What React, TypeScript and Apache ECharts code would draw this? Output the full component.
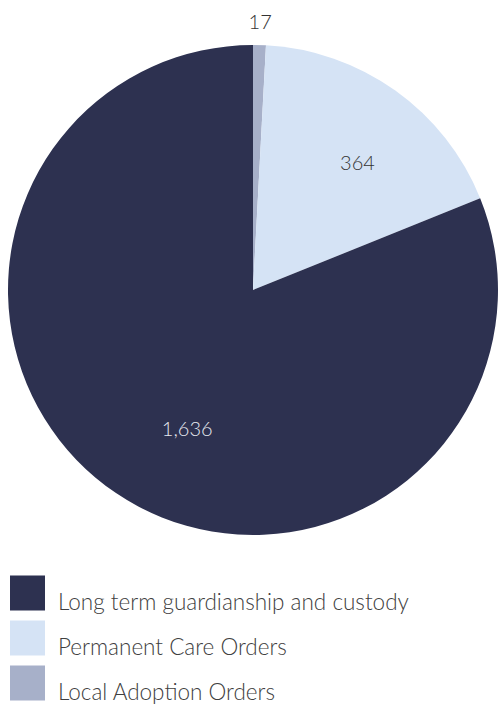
import React, { useEffect, useRef } from "react";
import * as echarts from "echarts";

const categories = ["Local Adoption Orders", "Permanent Care Orders", "Long term guardianship and custody"];
const values = [17, 364, 1636];
const colors = ["#a7b0c9", "#d5e3f5", "#2d3150"];
const labelColors = ["#333333", "#333333", "#e6e8ef"];
const legendOrder = ["Long term guardianship and custody", "Permanent Care Orders", "Local Adoption Orders"];

const FONT = "Lato, 'Noto Sans', sans-serif";

export default function App() {
  const ref = useRef<HTMLDivElement>(null);
  useEffect(() => {
    const chart = echarts.init(ref.current!, null, { renderer: "svg" });
    const center = [253, 290];
    const base = categories.map((name, i) => ({ name, value: values[i], itemStyle: { color: colors[i] } }));
    const labelSeries = (radius: number[], showIdx: number, offset: number[]) => ({
      type: "pie",
      center,
      radius,
      startAngle: 90,
      clockwise: true,
      silent: true,
      legendHoverLink: false,
      emphasis: { disabled: true },
      labelLine: { show: false },
      data: categories.map((name, i) => ({
        name,
        value: values[i],
        itemStyle: { color: "rgba(0,0,0,0)" },
        label: {
          show: i === showIdx,
          position: "inside",
          offset,
          fontFamily: FONT,
          fontWeight: 300,
          fontSize: 20,
          color: labelColors[i],
          formatter: (p: any) => Number(p.value).toLocaleString("en-US"),
        },
      })),
    });
    chart.setOption({
      animation: false,
      legend: {
        data: legendOrder,
        orient: "vertical",
        left: 10,
        top: 573,
        height: 160,
        padding: 0,
        itemWidth: 35,
        itemHeight: 35,
        itemGap: 5,
        icon: "rect",
        selectedMode: false,
        formatter: (name: string) => `{t|${name}}`,
        textStyle: {
          fontFamily: FONT,
          fontWeight: 300,
          fontSize: 22.5,
          color: "#404040",
          padding: [0, 0, 0, 8],
          rich: {
            t: {
              fontFamily: FONT,
              fontWeight: 300,
              fontSize: 22.5,
              color: "#404040",
              lineHeight: 12,
              padding: [17, 0, 0, 0],
            },
          },
        },
      },
      series: [
        {
          type: "pie",
          center,
          radius: [0, 245],
          startAngle: 90,
          clockwise: true,
          label: { show: false },
          labelLine: { show: false },
          itemStyle: { borderWidth: 0 },
          emphasis: { disabled: true },
          data: base,
        },
        labelSeries([130, 196], 1, [8, 7]),
        labelSeries([112, 196], 2, [22, 8]),
        labelSeries([250, 286], 0, [0, 2]),
      ],
    });
    return () => chart.dispose();
  }, []);
  return <div ref={ref} style={{ position: "fixed", left: 0, top: 0, width: 498, height: 704, background: "#fff" }} />;
}
